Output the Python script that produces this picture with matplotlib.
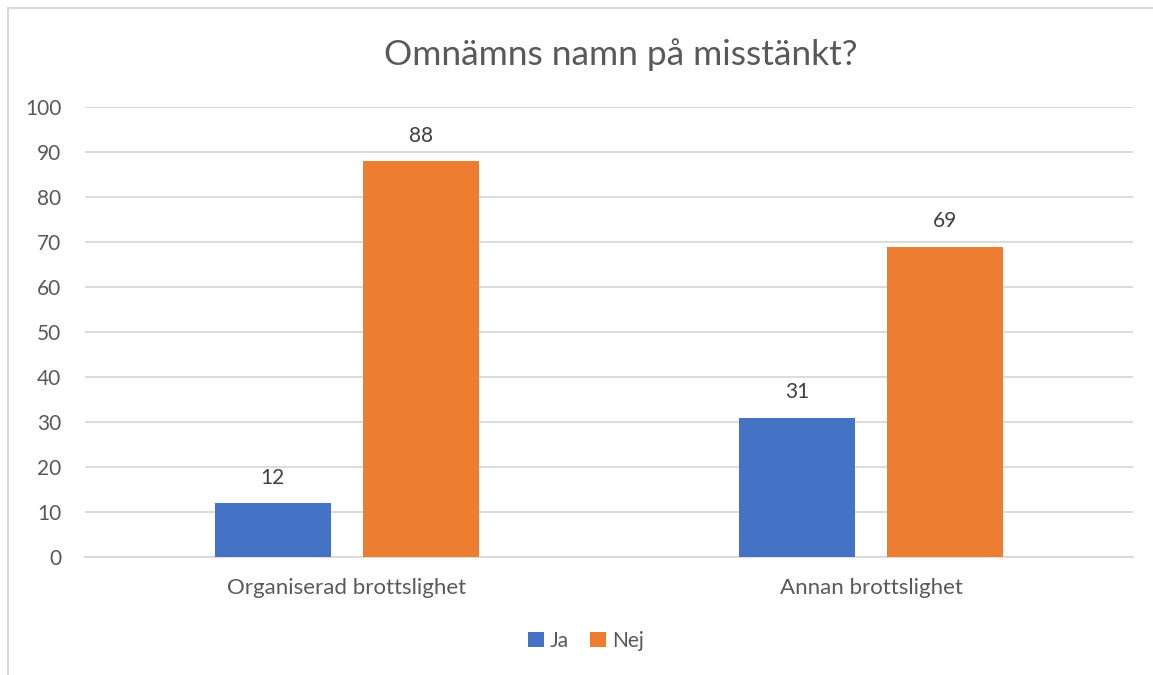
import matplotlib.pyplot as plt
import numpy as np
from matplotlib.patches import Rectangle

categories = ["Organiserad brottslighet", "Annan brottslighet"]
ja = [12, 31]
nej = [88, 69]
series_names = ["Ja", "Nej"]
colors = ["#4472C4", "#ED7D31"]

plt.rcParams['font.family'] = ['Lato', 'DejaVu Sans']
text_color = "#595959"

fig = plt.figure(figsize=(11.53, 6.75), dpi=100)
ax = fig.add_axes([85 / 1153, 1 - 557 / 675, (1133 - 85) / 1153, (557 - 107) / 675])

# outer chart border (only top/left visible in the reference)
fig.patches.append(Rectangle((8 / 1153, -0.05), 1.1, 1 - 8 / 675 + 0.05,
                             transform=fig.transFigure, fill=False,
                             edgecolor="#D9D9D9", linewidth=1.5))

x = np.arange(len(categories))
width = 0.222
offset = 0.1415

bars_ja = ax.bar(x - offset, ja, width, color=colors[0], label=series_names[0], zorder=3)
bars_nej = ax.bar(x + offset, nej, width, color=colors[1], label=series_names[1], zorder=3)

for bars in (bars_ja, bars_nej):
    for b in bars:
        ax.annotate(f"{b.get_height():g}", (b.get_x() + b.get_width() / 2, b.get_height()),
                    xytext=(0, 11), textcoords="offset points", ha="center", va="bottom",
                    fontsize=15, color="#404040")

ax.set_xlim(-0.5, 1.5)
ax.set_ylim(0, 100)
ax.set_yticks(np.arange(0, 101, 10))
ax.yaxis.grid(True, color="#D9D9D9", linewidth=1.3, zorder=0)
ax.set_axisbelow(True)
for s in ["top", "right", "left"]:
    ax.spines[s].set_visible(False)
ax.spines["bottom"].set_color("#D9D9D9")
ax.spines["bottom"].set_linewidth(1.3)
ax.tick_params(axis="both", length=0, labelcolor=text_color)
ax.tick_params(axis="y", pad=17, labelsize=15)
ax.tick_params(axis="x", pad=15, labelsize=16)
ax.set_xticks(x)
ax.set_xticklabels(categories)

fig.text(621 / 1153, 1 - 55 / 675, "Omnämns namn på misstänkt?", ha="center", va="center",
         fontsize=25.5, color=text_color)

fig.legend(loc="center", bbox_to_anchor=(586 / 1153, 1 - 641 / 675), ncol=2, frameon=False,
           fontsize=15, handlelength=0.75, handleheight=0.75, handletextpad=0.3,
           columnspacing=1.0, labelcolor=text_color)

fig.savefig("out.png", dpi=100)
